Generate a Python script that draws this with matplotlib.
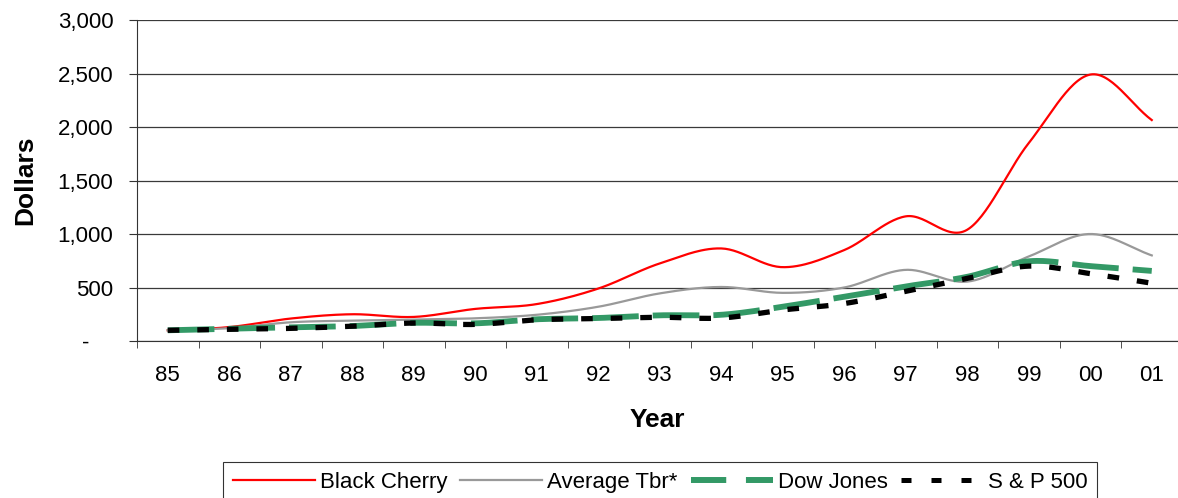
import numpy as np
import matplotlib
matplotlib.use("Agg")
import matplotlib.pyplot as plt
from matplotlib.lines import Line2D
from matplotlib.ticker import FuncFormatter, FixedLocator

plt.rcParams['font.family'] = ['Liberation Sans', 'DejaVu Sans']

years = ['85', '86', '87', '88', '89', '90', '91', '92', '93', '94',
         '95', '96', '97', '98', '99', '00', '01']
black_cherry = [100, 130, 210, 250, 225, 300, 345, 490, 725, 865,
                690, 850, 1165, 1040, 1850, 2490, 2065]
average_tbr = [100, 120, 175, 190, 200, 212, 245, 320, 445, 505,
               450, 500, 665, 555, 790, 1000, 800]
dow_jones = [100, 115, 128, 140, 170, 165, 203, 215, 240, 245,
             320, 415, 510, 600, 745, 700, 655]
sp500 = [100, 110, 118, 138, 168, 155, 198, 210, 222, 215,
         290, 350, 465, 585, 700, 630, 540]


def smooth(vals, n=30):
    # catmull-rom, like excel's smoothed line
    p = np.array(vals, dtype=float)
    p = np.concatenate([[2 * p[0] - p[1]], p, [2 * p[-1] - p[-2]]])
    xs, ys = [], []
    for i in range(1, len(p) - 2):
        t = np.linspace(0, 1, n, endpoint=False)
        p0, p1, p2, p3 = p[i - 1], p[i], p[i + 1], p[i + 2]
        y = 0.5 * ((2 * p1) + (-p0 + p2) * t
                   + (2 * p0 - 5 * p1 + 4 * p2 - p3) * t ** 2
                   + (-p0 + 3 * p1 - 3 * p2 + p3) * t ** 3)
        xs.append(i - 1 + t)
        ys.append(y)
    xs.append([len(vals) - 1])
    ys.append([vals[-1]])
    return np.concatenate(xs), np.concatenate(ys)


fig = plt.figure(figsize=(11.78, 4.98), dpi=100)
ax = fig.add_axes([137 / 1178, 157 / 498, 1 - 137 / 1178, 321 / 498])

x, y = smooth(black_cherry)
ax.plot(x, y, color='#ff0000', lw=1.6, zorder=3)
x, y = smooth(average_tbr)
ax.plot(x, y, color='#999999', lw=1.6, zorder=3)
x, y = smooth(dow_jones)
ax.plot(x, y, color='#339966', lw=4.2, dashes=(8, 2.4), zorder=4)
x, y = smooth(sp500)
ax.plot(x, y, color='#000000', lw=3.8, dashes=(2.2, 3.4), zorder=5)

n = len(years)
right = -0.5 + (1178 - 137) / 61.5
ax.set_xlim(-0.5, right)
ax.set_ylim(0, 3000)
ax.set_xticks(range(n))
ax.set_xticklabels(years, fontsize=16)
ax.xaxis.set_minor_locator(FixedLocator(np.arange(-0.5, n, 1)))
ax.tick_params(axis='x', which='major', length=0, pad=17)
ax.tick_params(axis='x', which='minor', length=5, color='#333333')
ax.set_yticks(range(0, 3001, 500))
ax.yaxis.set_major_formatter(FuncFormatter(lambda v, p: '-    ' if v == 0 else f'{int(v):,}'))
ax.tick_params(axis='y', length=6, labelsize=16, pad=11, color='#333333')
ax.grid(axis='y', color='#3a3a3a', lw=0.9)
ax.set_axisbelow(True)
for s in ['top', 'right']:
    ax.spines[s].set_visible(False)
ax.spines['left'].set_color('#333333')
ax.spines['bottom'].set_color('#333333')

ax.set_xlabel('Year', fontsize=19, fontweight='bold', labelpad=16)
ax.set_ylabel('Dollars', fontsize=19, fontweight='bold', labelpad=15)

handles = [
    Line2D([], [], color='#ff0000', lw=1.6),
    Line2D([], [], color='#999999', lw=1.6),
    Line2D([], [], color='#339966', lw=4.3, dashes=(5.9, 3.3)),
    Line2D([], [], color='#000000', lw=3.6, dashes=(2, 4)),
]
labels = ['Black Cherry', 'Average Tbr*', 'Dow Jones', 'S & P 500']
leg = fig.legend(handles, labels, loc='upper center',
                 bbox_to_anchor=(660 / 1178, 1 - 462 / 498), ncol=4,
                 fontsize=16, frameon=True, fancybox=False, edgecolor='black',
                 handlelength=3.7, columnspacing=0.58, handletextpad=0.22,
                 borderpad=0.45, borderaxespad=0)
leg.get_frame().set_linewidth(0.8)

fig.savefig('out.png', dpi=100)
